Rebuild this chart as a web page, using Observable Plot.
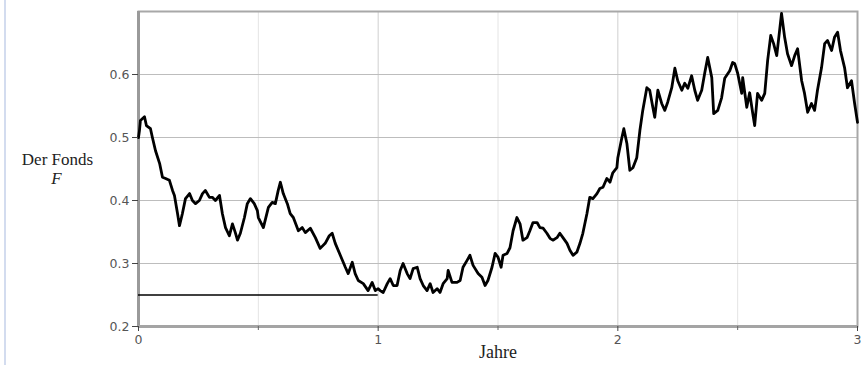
<!DOCTYPE html>
<html>
<head>
<meta charset="utf-8">
<script src="https://cdn.jsdelivr.net/npm/d3@7"></script>
<script src="https://cdn.jsdelivr.net/npm/@observablehq/plot@0.6"></script>
<style>
  html, body { margin: 0; padding: 0; background: #fff; }
  #wrap { position: relative; width: 861px; height: 365px; overflow: hidden; }
  #edge { position: absolute; left: 4px; top: 0; width: 2px; height: 365px; background: #d3dcef; }
</style>
</head>
<body>
<div id="wrap"><div id="edge"></div></div>
<script>
// Zeit in Jahren
const years = [0, 0.004, 0.008, 0.025, 0.033, 0.05, 0.058, 0.071, 0.088, 0.1, 0.113, 0.129, 0.142, 0.15, 0.163, 0.171, 0.183, 0.196, 0.213, 0.225, 0.238, 0.254, 0.267, 0.279, 0.296, 0.308, 0.321, 0.338, 0.35, 0.363, 0.379, 0.392, 0.404, 0.413, 0.425, 0.442, 0.454, 0.467, 0.483, 0.496,
  0.5, 0.521, 0.542, 0.558, 0.571, 0.583, 0.592, 0.604, 0.621, 0.633, 0.646, 0.667, 0.683, 0.696, 0.717, 0.738, 0.758, 0.779, 0.796, 0.808, 0.821, 0.842, 0.863, 0.875, 0.892, 0.904, 0.917, 0.938, 0.958, 0.975, 0.988, 1.0,
  1.008, 1.021, 1.038, 1.05, 1.063, 1.079, 1.092, 1.104, 1.121, 1.133, 1.146, 1.163, 1.175, 1.188, 1.204, 1.217, 1.229, 1.246, 1.258, 1.271, 1.288, 1.292, 1.308, 1.329, 1.342, 1.354, 1.371, 1.383, 1.396, 1.417, 1.433, 1.446, 1.458, 1.475, 1.488,
  1.5, 1.513, 1.521, 1.538, 1.55, 1.563, 1.579, 1.592, 1.604, 1.621, 1.633, 1.646, 1.663, 1.675, 1.688, 1.704, 1.717, 1.729, 1.746, 1.758, 1.771, 1.788, 1.8, 1.813, 1.829, 1.842, 1.854, 1.871, 1.883, 1.896, 1.913, 1.925, 1.938, 1.954, 1.967, 1.979, 1.996,
  2.0, 2.017, 2.025, 2.038, 2.05, 2.063, 2.079, 2.092, 2.104, 2.121, 2.133, 2.146, 2.154, 2.167, 2.183, 2.196, 2.208, 2.225, 2.238, 2.25, 2.267, 2.279, 2.292, 2.308, 2.321, 2.333, 2.35, 2.363, 2.375, 2.392, 2.4, 2.417, 2.433, 2.446, 2.467, 2.479,
  2.488, 2.5, 2.517, 2.521, 2.538, 2.55, 2.563, 2.571, 2.583, 2.6, 2.613, 2.625, 2.638, 2.65, 2.663, 2.675, 2.683, 2.696, 2.708, 2.725, 2.738, 2.75, 2.767, 2.779, 2.792, 2.808, 2.821, 2.833, 2.85, 2.863, 2.875, 2.892, 2.904, 2.917, 2.929, 2.946, 2.958, 2.975, 2.988, 3.0];

// Der Fonds F
const fonds = [0.5, 0.511, 0.527, 0.533, 0.519, 0.514, 0.5, 0.479, 0.459, 0.437, 0.435, 0.432, 0.416, 0.408, 0.379, 0.36, 0.379, 0.403, 0.411, 0.4, 0.395, 0.4, 0.411, 0.416, 0.405, 0.405, 0.4, 0.408, 0.379, 0.357, 0.344, 0.363, 0.349, 0.337, 0.348, 0.373, 0.395, 0.403, 0.395, 0.384,
  0.373, 0.357, 0.389, 0.397, 0.395, 0.416, 0.429, 0.411, 0.395, 0.379, 0.373, 0.352, 0.357, 0.349, 0.356, 0.341, 0.324, 0.332, 0.344, 0.348, 0.332, 0.313, 0.294, 0.284, 0.302, 0.284, 0.273, 0.268, 0.257, 0.27, 0.257, 0.26,
  0.257, 0.254, 0.268, 0.276, 0.265, 0.265, 0.289, 0.3, 0.284, 0.276, 0.292, 0.294, 0.276, 0.265, 0.257, 0.268, 0.254, 0.26, 0.254, 0.268, 0.276, 0.289, 0.27, 0.27, 0.273, 0.294, 0.305, 0.313, 0.297, 0.284, 0.278, 0.265, 0.273, 0.294, 0.316,
  0.31, 0.294, 0.313, 0.316, 0.325, 0.352, 0.373, 0.363, 0.337, 0.341, 0.352, 0.365, 0.365, 0.357, 0.356, 0.348, 0.34, 0.337, 0.341, 0.348, 0.341, 0.332, 0.321, 0.313, 0.318, 0.332, 0.348, 0.379, 0.405, 0.403, 0.411, 0.419, 0.421, 0.435, 0.429, 0.444, 0.452,
  0.468, 0.5, 0.514, 0.49, 0.448, 0.452, 0.468, 0.511, 0.543, 0.579, 0.575, 0.548, 0.532, 0.575, 0.554, 0.543, 0.556, 0.579, 0.61, 0.59, 0.575, 0.586, 0.578, 0.598, 0.575, 0.559, 0.575, 0.603, 0.627, 0.595, 0.538, 0.543, 0.563, 0.594, 0.606, 0.619,
  0.617, 0.602, 0.57, 0.595, 0.548, 0.571, 0.538, 0.519, 0.57, 0.559, 0.57, 0.622, 0.662, 0.649, 0.63, 0.67, 0.697, 0.659, 0.633, 0.614, 0.63, 0.641, 0.59, 0.57, 0.54, 0.554, 0.543, 0.575, 0.611, 0.649, 0.654, 0.638, 0.659, 0.667, 0.638, 0.611, 0.579, 0.59, 0.554, 0.524];

const yTicks = [0.2, 0.3, 0.4, 0.5, 0.6];
const yGrid = [0.3, 0.4, 0.5, 0.6];
const xTicks = [0, 1, 2, 3];
const xMinor = [0.5, 1.5, 2.5];
const xGridMajor = [1, 2];
const refLevel = [{t0: 0, t1: 1, f: 0.25}];
const yLabelLines = ["Der Fonds", "F"];
const xLabel = "Jahre";

const data = years.map((t, i) => ({t, f: fonds[i]}));

const chart = Plot.plot({
  width: 861,
  height: 365,
  marginLeft: 138,
  marginRight: 4,
  marginTop: 11,
  marginBottom: 39,
  x: {domain: [0, 3]},
  y: {domain: [0.2, 0.7]},
  style: {background: "transparent", fontFamily: "'DejaVu Sans', sans-serif"},
  marks: [
    Plot.gridX(xMinor, {stroke: "#e4e4e4", strokeOpacity: 1}),
    Plot.gridX(xGridMajor, {stroke: "#cfcfcf", strokeOpacity: 1}),
    Plot.gridY(yGrid, {stroke: "#bdbdbd", strokeOpacity: 1}),
    Plot.frame({stroke: "#a8a8a8", strokeWidth: 2}),
    Plot.ruleX([0], {stroke: "#9a9a9a", strokeWidth: 3}),
    Plot.ruleY([0.2], {stroke: "#a4a4a4", strokeWidth: 3}),
    Plot.ruleY(refLevel, {y: "f", x1: "t0", x2: "t1", stroke: "#000", strokeWidth: 1.5}),
    Plot.line(data, {x: "t", y: "f", stroke: "#000", strokeWidth: 2.8, strokeLinejoin: "round"}),
    Plot.axisY(yTicks, {tickSize: 6, tickPadding: 3, fontSize: 12.5, label: null, color: "#555", stroke: "#444", tickFormat: d => d.toFixed(1)}),
    Plot.axisX(xTicks, {tickSize: 5, tickPadding: 4, fontSize: 12.5, label: null, color: "#555", stroke: "#444", tickFormat: d => String(d)}),
    Plot.axisX(xMinor, {tickSize: 4, label: null, stroke: "#666", tickFormat: () => ""}),
    Plot.text([yLabelLines[0]], {frameAnchor: "left", dx: -81, dy: -9.5, textAnchor: "middle", text: d => d, fontFamily: "'Liberation Serif', serif", fontSize: 17, fill: "#222"}),
    Plot.text([yLabelLines[1]], {frameAnchor: "left", dx: -82, dy: 9.5, textAnchor: "middle", text: d => d, fontFamily: "'Liberation Serif', serif", fontStyle: "italic", fontSize: 17, fill: "#222"}),
    Plot.text([xLabel], {frameAnchor: "bottom", dy: 31, text: d => d, fontFamily: "'Liberation Serif', serif", fontSize: 18, fill: "#222"})
  ]
});
document.getElementById("wrap").appendChild(chart);
chart.style.position = "absolute";
chart.style.left = "0";
chart.style.top = "0";
</script>
</body>
</html>
